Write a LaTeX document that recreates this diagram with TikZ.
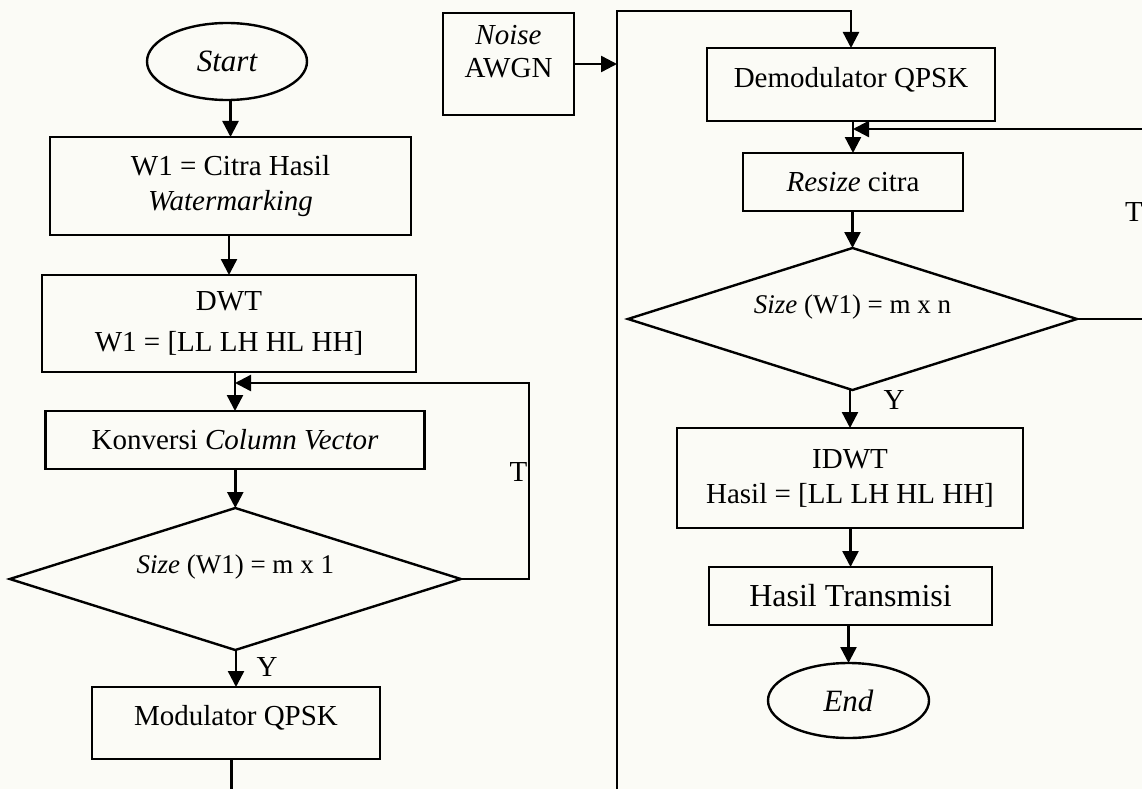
\documentclass[tikz,border=0pt]{standalone}
\usepackage{fontspec}
\setmainfont{Liberation Serif}
\usetikzlibrary{shapes.geometric,arrows.meta}
\definecolor{paper}{RGB}{251,251,246}
\begin{document}
\begin{tikzpicture}[x=1pt,y=-1pt,
  line width=2.4pt,
  every node/.style={inner sep=0pt,outer sep=0pt},
  txt/.style={font=\fontsize{29}{35}\selectfont},
  box/.style={draw,rectangle,align=center,txt},
  term/.style={draw,ellipse,font=\fontsize{31}{36}\selectfont\itshape},
  decision/.style={draw,diamond,aspect=3.17,font=\fontsize{27}{32}\selectfont,text height=18.5pt,text depth=28.7pt},
  arr/.style={-{Triangle[length=16pt,width=16pt]}},
  yn/.style={txt}
]
\fill[paper] (0,0) rectangle (1142,789);
\useasboundingbox (0,0) rectangle (1142,789);

% ---- transmitter column ----
\node[term,minimum width=160pt,minimum height=77pt] (start) at (227,61.5) {Start};
\node[box,minimum width=361pt,minimum height=98pt] (w1) at (230.5,186) {W1 = Citra Hasil\\\textit{Watermarking}};
\node[box,minimum width=374pt,minimum height=97pt] (dwt) at (229,323.5) {DWT\\[6pt]W1 = [LL LH HL HH]};
\node[box,minimum width=379pt,minimum height=58pt,text height=20pt,text depth=0.8pt] (conv) at (235,440) {Konversi \textit{Column Vector}};
\node[decision,minimum width=451pt,minimum height=142pt] (d1) at (235.3,579) {\textit{Size} (W1) = m x 1};
\node[box,minimum width=288pt,minimum height=72pt,text height=20pt,text depth=14.8pt] (mod) at (236,723) {Modulator QPSK};

% ---- channel noise ----
\node[box,minimum width=131pt,minimum height=102pt,text height=27.2pt,text depth=0pt] (noise) at (508.5,64) {\textit{Noise}\\[-2pt]AWGN};

% ---- receiver column ----
\node[box,minimum width=288pt,minimum height=73pt,text height=20pt,text depth=14.8pt] (demod) at (851,84.5) {Demodulator QPSK};
\node[box,minimum width=220pt,minimum height=58pt,text height=20pt,text depth=0.8pt] (resize) at (853,182) {\textit{Resize} citra};
\node[decision,minimum width=449pt,minimum height=142pt] (d2) at (852.5,319) {\textit{Size} (W1) = m x n};
\node[box,minimum width=346pt,minimum height=100pt] (idwt) at (850,478) {IDWT\\Hasil = [LL LH HL HH]};
\node[box,minimum width=283pt,minimum height=58pt,font=\fontsize{32}{38}\selectfont,text height=22pt,text depth=0.8pt] (hasil) at (850.5,596) {Hasil Transmisi};
\node[term,minimum width=161pt,minimum height=75pt] (end) at (848.5,700.5) {End};

% ---- branch labels ----
\node[yn] (t1) at (518.5,472) {T};
\node[yn] (y1) at (267,667) {Y};
\node[yn] (t2) at (1134,212) {T};
\node[yn] (y2) at (894,400) {Y};

% ---- routing points ----
\coordinate (lpR) at (529,383);
\coordinate (cutL) at (231.5,789);
\coordinate (cutR) at (617,789);
\coordinate (topR) at (617,11);
\coordinate (rpR) at (1150,129);

% ---- connectors, transmitter ----
\draw[arr] (w1.north |- start.south) -- (w1.north);
\draw[arr] (dwt.north |- w1.south) -- (dwt.north);
\draw[arr] (conv.north |- dwt.south) -- (conv.north);
\draw[arr] (d1.north |- conv.south) -- (d1.north);
\draw[arr] (mod.north |- d1.south) -- (mod.north);
\draw[arr] (d1.east) -| (lpR) -- (conv.north |- lpR);
\draw (cutL |- mod.south) -- (cutL);

% ---- connectors, channel and receiver ----
\draw[arr] (cutR) -- (topR) -| (demod.north);
\draw[arr] (noise.east) -- (noise.east -| topR);
\draw[arr] (resize.north |- demod.south) -- (resize.north);
\draw[arr] (d2.north |- resize.south) -- (d2.north);
\draw[arr] (idwt.north |- d2.south) -- (idwt.north);
\draw[arr] (hasil.north |- idwt.south) -- (hasil.north);
\draw[arr] (end.north |- hasil.south) -- (end.north);
\draw[arr] (d2.east) -| (rpR) -- (resize.north |- rpR);
\end{tikzpicture}
\end{document}
